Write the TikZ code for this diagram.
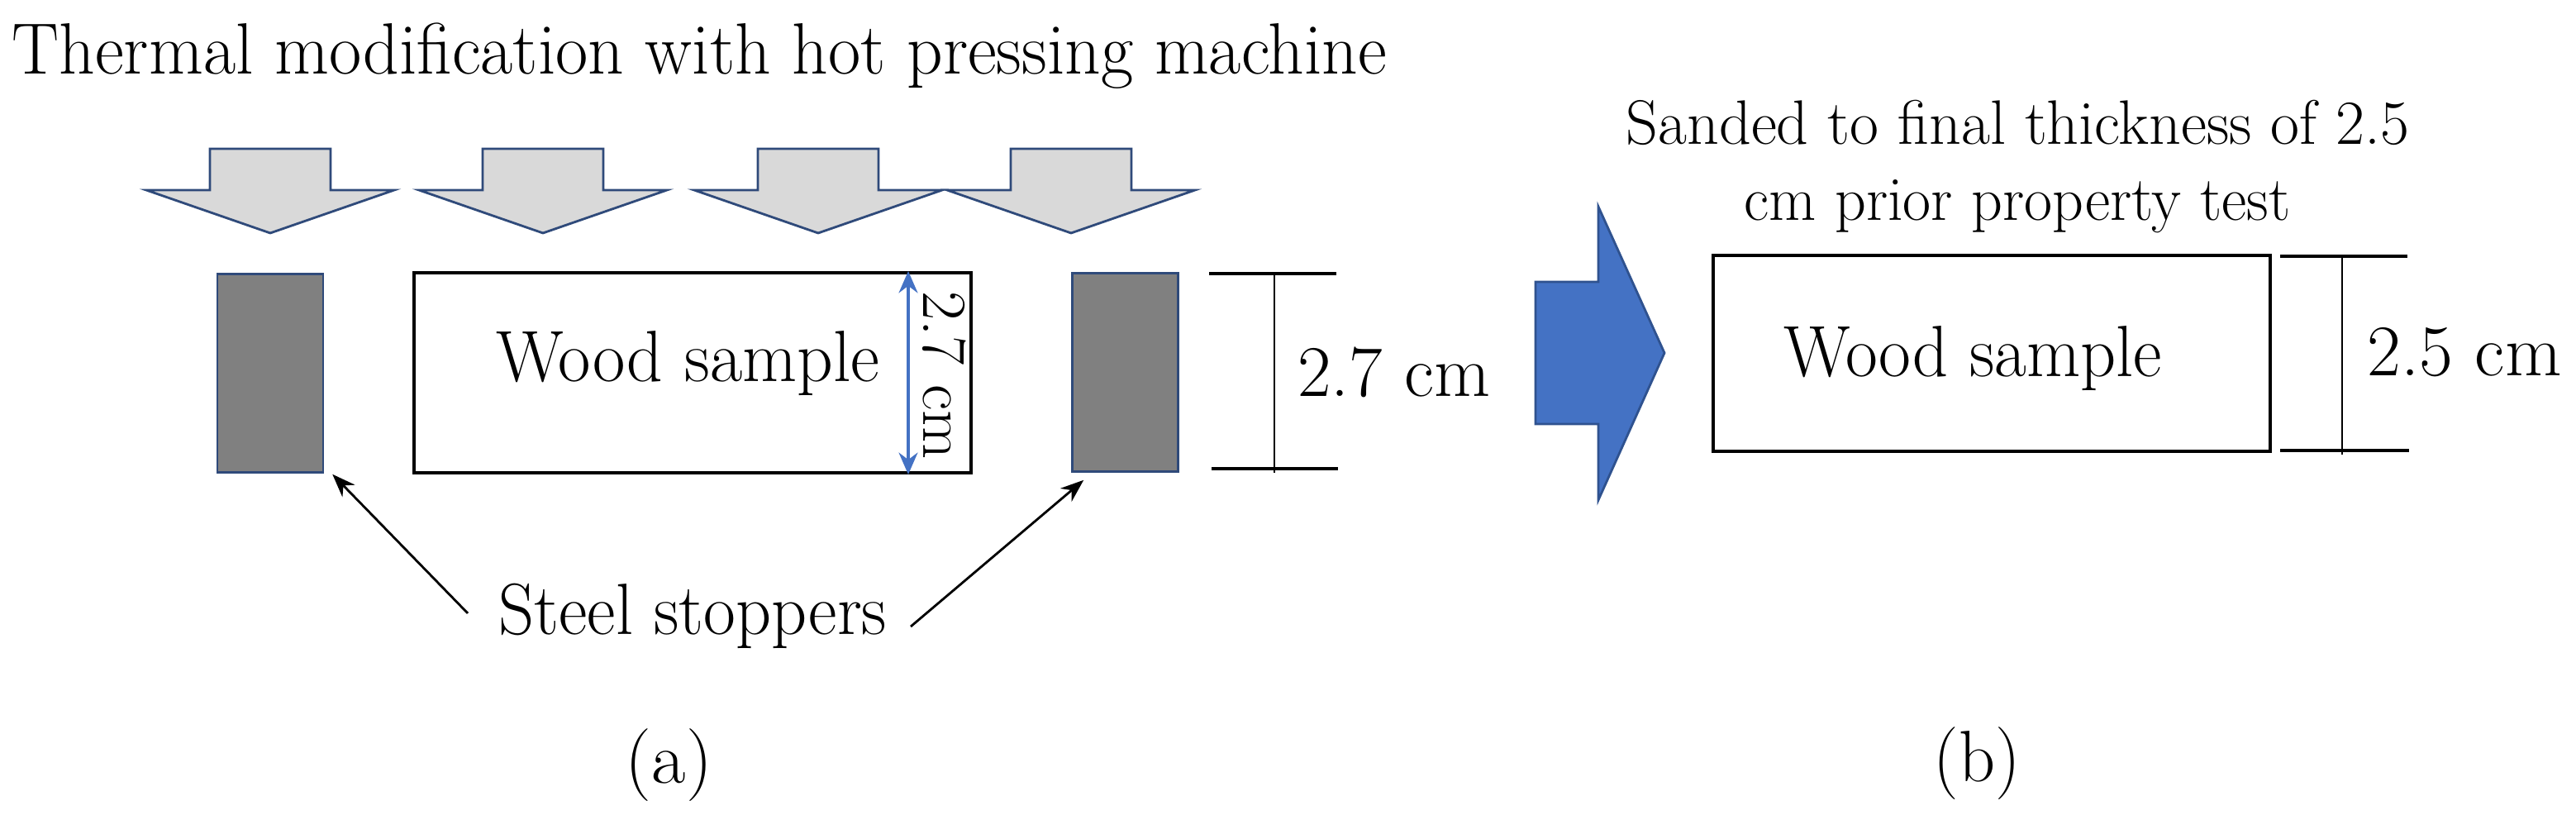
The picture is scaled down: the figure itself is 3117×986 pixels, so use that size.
\documentclass[tikz,border=0pt]{standalone}
\usepackage{graphicx}
\usetikzlibrary{arrows.meta}
\definecolor{greyfill}{HTML}{D9D9D9}
\definecolor{navyline}{HTML}{2F4A7A}
\definecolor{stopfill}{HTML}{808080}
\definecolor{accblue}{HTML}{4472C4}
\definecolor{accedge}{HTML}{2F528F}
\newcommand\bigtxt{\rmfamily\fontsize{25}{30}\selectfont}
\newcommand\smalltxt{\rmfamily\fontsize{21.6}{26}\selectfont}
\newcommand\fitw[2]{\resizebox{#1}{\height}{#2}}
\begin{document}
\begin{tikzpicture}[x=0.01cm,y=-0.01cm,
  txt/.style={inner sep=0pt, font=\bigtxt},
  smtxt/.style={inner sep=0pt, font=\smalltxt},
  press/.style={fill=greyfill, draw=navyline, line width=0.8pt, line join=miter},
  stopper/.style={fill=stopfill, draw=navyline, line width=0.7pt, minimum width=1.28cm, minimum height=2.40cm, inner sep=0pt},
  sample/.style={draw=black, line width=1.1pt, inner sep=0pt},
  dimline/.style={black, line width=0.55pt},
  dimcap/.style={black, line width=1.1pt},
  leader/.style={black, line width=0.8pt, -{Stealth[length=8pt,width=6pt]}},
  bigarrow/.style={fill=accblue, draw=accedge, line width=0.8pt, line join=miter},
]
\path[use as bounding box] (0,0) rectangle (3117,986);

% title
\node[txt, anchor=base west] (title) at (14,90) {\fitw{16.62cm}{Thermal modification with hot pressing machine}};

% pressing arrows
\foreach \c in {327,657,990,1296}{
  \draw[press] (\c-73,180) -- (\c+73,180) -- (\c+73,230) -- (\c+150,230)
     -- (\c,282) -- (\c-150,230) -- (\c-73,230) -- cycle;
}

% stoppers
\node[stopper] (stopL) at (327,451.5) {};
\node[stopper] (stopR) at (1361.5,450.5) {};

% wood sample (a)
\node[sample, minimum width=6.74cm, minimum height=2.42cm] (woodA) at (838,451) {};
\node[txt, anchor=base] (woodAtxt) at (832.5,462) {\fitw{4.63cm}{Wood sample}};
\draw[accblue, line width=1.1pt, {Stealth[length=7.5pt,width=6.5pt]}-{Stealth[length=7.5pt,width=6.5pt]}]
  (woodA.north -| 1099,0) -- (woodA.south -| 1099,0);
\node[smtxt, rotate=-90] (dimAin) at (1143,454) {\fitw{2.03cm}{2.7 cm}};

% dimension (a)
\coordinate (dAt1) at (1463,331);
\coordinate (dAt2) at (1617,331);
\coordinate (dAb1) at (1466,567);
\coordinate (dAb2) at (1619,567);
\draw[dimcap] (dAt1) -- (dAt2);
\draw[dimcap] (dAb1) -- (dAb2);
\draw[dimline] (1542,331) -- (1542,572);
\node[txt, anchor=base] (dimA) at (1687,480) {\fitw{2.33cm}{2.7 cm}};

% steel stoppers label and leaders
\node[txt, anchor=base] (steel) at (838.5,768) {\fitw{4.69cm}{Steel stoppers}};
\coordinate (lstartL) at (566,742);
\coordinate (lstartR) at (1102,758);
\draw[leader] (lstartL) -- ([xshift=0.1cm,yshift=-0.01cm]stopL.south east);
\draw[leader] (lstartR) -- ([xshift=0.15cm,yshift=-0.09cm]stopR.south west);

\node[txt, anchor=base] (capA) at (809.5,948) {\fitw{1.05cm}{(a)}};

% big blue arrow
\draw[bigarrow] (1858,341) -- (1934,341) -- (1934,250) -- (2014,427)
   -- (1934,605) -- (1934,513) -- (1858,513) -- cycle;

% (b)
\node[smtxt, anchor=base] (sandA) at (2441.5,175) {\fitw{9.47cm}{Sanded to final thickness of 2.5}};
\node[smtxt, anchor=base] (sandB) at (2441,267) {\fitw{6.6cm}{cm prior property test}};
\node[sample, minimum width=6.74cm, minimum height=2.37cm] (woodB) at (2410,427.5) {};
\node[txt, anchor=base] (woodBtxt) at (2387.5,456) {\fitw{4.57cm}{Wood sample}};
\draw[dimcap] (2759,310) -- (2913,310);
\draw[dimcap] (2759,545) -- (2915,545);
\draw[dimline] (2834,310) -- (2834,550);
\node[txt, anchor=base] (dimB) at (2982,455) {\fitw{2.35cm}{2.5 cm}};

\node[txt, anchor=base] (capB) at (2392.5,946) {\fitw{1.05cm}{(b)}};
\end{tikzpicture}
\end{document}
